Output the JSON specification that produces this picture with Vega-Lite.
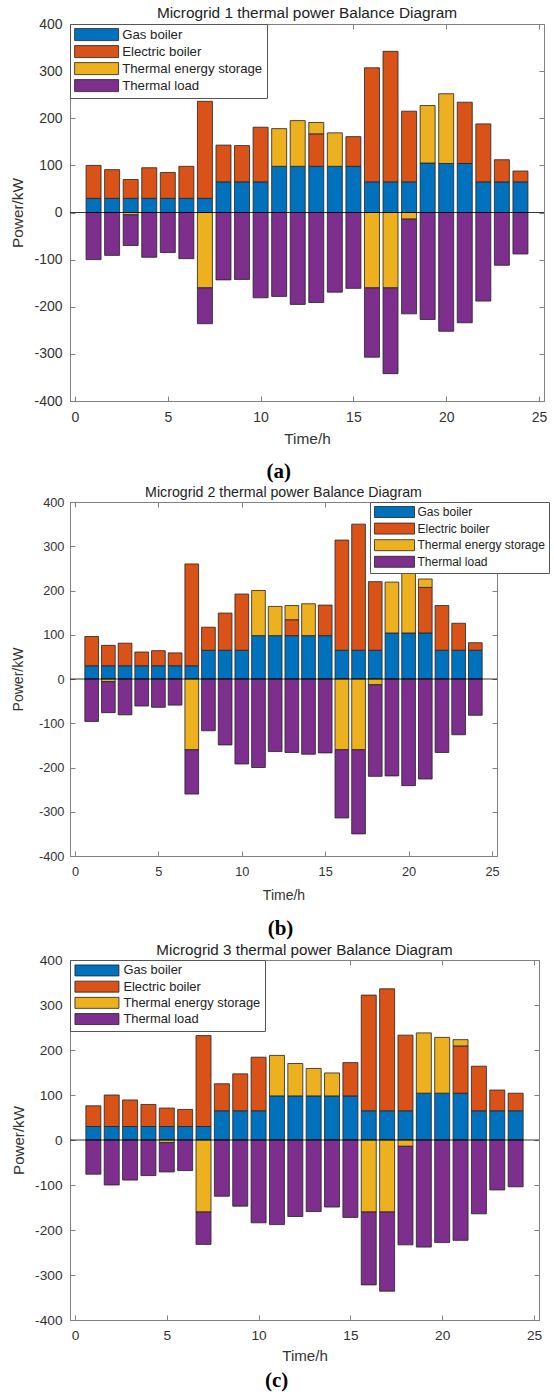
{
  "$schema": "https://vega.github.io/schema/vega-lite/v6.json",
  "padding": {"left": 10, "top": 5, "right": 1, "bottom": 2},
  "background": "white",
  "columns": 1,
  "align": "none",
  "spacing": 3,
  "config": {
    "font": "Liberation Sans",
    "view": {"stroke": "#808080", "strokeWidth": 1},
    "axis": {"domainColor": "#808080", "tickColor": "#808080", "labelColor": "#333333", "titleColor": "#333333", "grid": false, "labelFont": "Liberation Sans", "titleFont": "Liberation Sans", "titleFontWeight": "normal", "labelOverlap": false, "labelFlush": false, "tickSize": -5},
    "title": {"font": "Liberation Sans", "fontWeight": "normal", "color": "#222222"},
    "legend": {"title": null, "symbolStrokeColor": "#222222", "symbolStrokeWidth": 0.8, "symbolOpacity": 1, "labelColor": "#222222", "fillColor": "#ffffff", "strokeColor": "#555555", "labelLimit": 300, "labelFont": "Liberation Sans"}
  },
  "datasets": {
    "mg1": [
      {"hour":1,"source":"Gas boiler","power":30},{"hour":1,"source":"Electric boiler","power":70},{"hour":1,"source":"Thermal load","power":-100},
      {"hour":2,"source":"Gas boiler","power":30},{"hour":2,"source":"Electric boiler","power":61},{"hour":2,"source":"Thermal load","power":-91},
      {"hour":3,"source":"Gas boiler","power":30},{"hour":3,"source":"Electric boiler","power":40},{"hour":3,"source":"Thermal energy storage","power":-5},{"hour":3,"source":"Thermal load","power":-65},
      {"hour":4,"source":"Gas boiler","power":30},{"hour":4,"source":"Electric boiler","power":65},{"hour":4,"source":"Thermal load","power":-95},
      {"hour":5,"source":"Gas boiler","power":30},{"hour":5,"source":"Electric boiler","power":55},{"hour":5,"source":"Thermal load","power":-85},
      {"hour":6,"source":"Gas boiler","power":30},{"hour":6,"source":"Electric boiler","power":68},{"hour":6,"source":"Thermal load","power":-98},
      {"hour":7,"source":"Gas boiler","power":30},{"hour":7,"source":"Electric boiler","power":206},{"hour":7,"source":"Thermal energy storage","power":-160},{"hour":7,"source":"Thermal load","power":-76},
      {"hour":8,"source":"Gas boiler","power":65},{"hour":8,"source":"Electric boiler","power":78},{"hour":8,"source":"Thermal load","power":-143},
      {"hour":9,"source":"Gas boiler","power":65},{"hour":9,"source":"Electric boiler","power":77},{"hour":9,"source":"Thermal load","power":-142},
      {"hour":10,"source":"Gas boiler","power":65},{"hour":10,"source":"Electric boiler","power":116},{"hour":10,"source":"Thermal load","power":-181},
      {"hour":11,"source":"Gas boiler","power":98},{"hour":11,"source":"Thermal energy storage","power":80},{"hour":11,"source":"Thermal load","power":-178},
      {"hour":12,"source":"Gas boiler","power":98},{"hour":12,"source":"Thermal energy storage","power":97},{"hour":12,"source":"Thermal load","power":-195},
      {"hour":13,"source":"Gas boiler","power":98},{"hour":13,"source":"Electric boiler","power":69},{"hour":13,"source":"Thermal energy storage","power":24},{"hour":13,"source":"Thermal load","power":-191},
      {"hour":14,"source":"Gas boiler","power":98},{"hour":14,"source":"Thermal energy storage","power":71},{"hour":14,"source":"Thermal load","power":-169},
      {"hour":15,"source":"Gas boiler","power":98},{"hour":15,"source":"Electric boiler","power":63},{"hour":15,"source":"Thermal load","power":-161},
      {"hour":16,"source":"Gas boiler","power":65},{"hour":16,"source":"Electric boiler","power":242},{"hour":16,"source":"Thermal energy storage","power":-160},{"hour":16,"source":"Thermal load","power":-147},
      {"hour":17,"source":"Gas boiler","power":65},{"hour":17,"source":"Electric boiler","power":277},{"hour":17,"source":"Thermal energy storage","power":-160},{"hour":17,"source":"Thermal load","power":-182},
      {"hour":18,"source":"Gas boiler","power":65},{"hour":18,"source":"Electric boiler","power":150},{"hour":18,"source":"Thermal energy storage","power":-14},{"hour":18,"source":"Thermal load","power":-201},
      {"hour":19,"source":"Gas boiler","power":105},{"hour":19,"source":"Thermal energy storage","power":122},{"hour":19,"source":"Thermal load","power":-227},
      {"hour":20,"source":"Gas boiler","power":104},{"hour":20,"source":"Thermal energy storage","power":148},{"hour":20,"source":"Thermal load","power":-252},
      {"hour":21,"source":"Gas boiler","power":104},{"hour":21,"source":"Electric boiler","power":130},{"hour":21,"source":"Thermal load","power":-234},
      {"hour":22,"source":"Gas boiler","power":65},{"hour":22,"source":"Electric boiler","power":123},{"hour":22,"source":"Thermal load","power":-188},
      {"hour":23,"source":"Gas boiler","power":65},{"hour":23,"source":"Electric boiler","power":47},{"hour":23,"source":"Thermal load","power":-112},
      {"hour":24,"source":"Gas boiler","power":65},{"hour":24,"source":"Electric boiler","power":23},{"hour":24,"source":"Thermal load","power":-88}
    ],
    "mg2": [
      {"hour":1,"source":"Gas boiler","power":30},{"hour":1,"source":"Electric boiler","power":66},{"hour":1,"source":"Thermal load","power":-96},
      {"hour":2,"source":"Gas boiler","power":30},{"hour":2,"source":"Electric boiler","power":46},{"hour":2,"source":"Thermal energy storage","power":-6},{"hour":2,"source":"Thermal load","power":-70},
      {"hour":3,"source":"Gas boiler","power":30},{"hour":3,"source":"Electric boiler","power":51},{"hour":3,"source":"Thermal load","power":-81},
      {"hour":4,"source":"Gas boiler","power":30},{"hour":4,"source":"Electric boiler","power":31},{"hour":4,"source":"Thermal load","power":-61},
      {"hour":5,"source":"Gas boiler","power":30},{"hour":5,"source":"Electric boiler","power":34},{"hour":5,"source":"Thermal load","power":-64},
      {"hour":6,"source":"Gas boiler","power":30},{"hour":6,"source":"Electric boiler","power":29},{"hour":6,"source":"Thermal load","power":-59},
      {"hour":7,"source":"Gas boiler","power":30},{"hour":7,"source":"Electric boiler","power":230},{"hour":7,"source":"Thermal energy storage","power":-160},{"hour":7,"source":"Thermal load","power":-100},
      {"hour":8,"source":"Gas boiler","power":65},{"hour":8,"source":"Electric boiler","power":52},{"hour":8,"source":"Thermal load","power":-117},
      {"hour":9,"source":"Gas boiler","power":65},{"hour":9,"source":"Electric boiler","power":84},{"hour":9,"source":"Thermal load","power":-149},
      {"hour":10,"source":"Gas boiler","power":65},{"hour":10,"source":"Electric boiler","power":127},{"hour":10,"source":"Thermal load","power":-192},
      {"hour":11,"source":"Gas boiler","power":98},{"hour":11,"source":"Thermal energy storage","power":102},{"hour":11,"source":"Thermal load","power":-200},
      {"hour":12,"source":"Gas boiler","power":98},{"hour":12,"source":"Thermal energy storage","power":66},{"hour":12,"source":"Thermal load","power":-164},
      {"hour":13,"source":"Gas boiler","power":98},{"hour":13,"source":"Electric boiler","power":36},{"hour":13,"source":"Thermal energy storage","power":32},{"hour":13,"source":"Thermal load","power":-166},
      {"hour":14,"source":"Gas boiler","power":98},{"hour":14,"source":"Thermal energy storage","power":72},{"hour":14,"source":"Thermal load","power":-170},
      {"hour":15,"source":"Gas boiler","power":98},{"hour":15,"source":"Electric boiler","power":69},{"hour":15,"source":"Thermal load","power":-167},
      {"hour":16,"source":"Gas boiler","power":65},{"hour":16,"source":"Electric boiler","power":249},{"hour":16,"source":"Thermal energy storage","power":-160},{"hour":16,"source":"Thermal load","power":-154},
      {"hour":17,"source":"Gas boiler","power":65},{"hour":17,"source":"Electric boiler","power":285},{"hour":17,"source":"Thermal energy storage","power":-160},{"hour":17,"source":"Thermal load","power":-190},
      {"hour":18,"source":"Gas boiler","power":65},{"hour":18,"source":"Electric boiler","power":155},{"hour":18,"source":"Thermal energy storage","power":-13},{"hour":18,"source":"Thermal load","power":-207},
      {"hour":19,"source":"Gas boiler","power":104},{"hour":19,"source":"Thermal energy storage","power":115},{"hour":19,"source":"Thermal load","power":-219},
      {"hour":20,"source":"Gas boiler","power":104},{"hour":20,"source":"Thermal energy storage","power":137},{"hour":20,"source":"Thermal load","power":-241},
      {"hour":21,"source":"Gas boiler","power":104},{"hour":21,"source":"Electric boiler","power":103},{"hour":21,"source":"Thermal energy storage","power":19},{"hour":21,"source":"Thermal load","power":-226},
      {"hour":22,"source":"Gas boiler","power":65},{"hour":22,"source":"Electric boiler","power":101},{"hour":22,"source":"Thermal load","power":-166},
      {"hour":23,"source":"Gas boiler","power":65},{"hour":23,"source":"Electric boiler","power":61},{"hour":23,"source":"Thermal load","power":-126},
      {"hour":24,"source":"Gas boiler","power":65},{"hour":24,"source":"Electric boiler","power":17},{"hour":24,"source":"Thermal load","power":-82}
    ],
    "mg3": [
      {"hour":1,"source":"Gas boiler","power":30},{"hour":1,"source":"Electric boiler","power":46},{"hour":1,"source":"Thermal load","power":-76},
      {"hour":2,"source":"Gas boiler","power":30},{"hour":2,"source":"Electric boiler","power":70},{"hour":2,"source":"Thermal load","power":-100},
      {"hour":3,"source":"Gas boiler","power":30},{"hour":3,"source":"Electric boiler","power":59},{"hour":3,"source":"Thermal load","power":-89},
      {"hour":4,"source":"Gas boiler","power":30},{"hour":4,"source":"Electric boiler","power":49},{"hour":4,"source":"Thermal load","power":-79},
      {"hour":5,"source":"Gas boiler","power":30},{"hour":5,"source":"Electric boiler","power":41},{"hour":5,"source":"Thermal energy storage","power":-6},{"hour":5,"source":"Thermal load","power":-65},
      {"hour":6,"source":"Gas boiler","power":30},{"hour":6,"source":"Electric boiler","power":38},{"hour":6,"source":"Thermal load","power":-68},
      {"hour":7,"source":"Gas boiler","power":30},{"hour":7,"source":"Electric boiler","power":202},{"hour":7,"source":"Thermal energy storage","power":-160},{"hour":7,"source":"Thermal load","power":-72},
      {"hour":8,"source":"Gas boiler","power":65},{"hour":8,"source":"Electric boiler","power":60},{"hour":8,"source":"Thermal load","power":-125},
      {"hour":9,"source":"Gas boiler","power":65},{"hour":9,"source":"Electric boiler","power":82},{"hour":9,"source":"Thermal load","power":-147},
      {"hour":10,"source":"Gas boiler","power":65},{"hour":10,"source":"Electric boiler","power":119},{"hour":10,"source":"Thermal load","power":-184},
      {"hour":11,"source":"Gas boiler","power":98},{"hour":11,"source":"Thermal energy storage","power":90},{"hour":11,"source":"Thermal load","power":-188},
      {"hour":12,"source":"Gas boiler","power":98},{"hour":12,"source":"Thermal energy storage","power":72},{"hour":12,"source":"Thermal load","power":-170},
      {"hour":13,"source":"Gas boiler","power":98},{"hour":13,"source":"Thermal energy storage","power":61},{"hour":13,"source":"Thermal load","power":-159},
      {"hour":14,"source":"Gas boiler","power":98},{"hour":14,"source":"Thermal energy storage","power":51},{"hour":14,"source":"Thermal load","power":-149},
      {"hour":15,"source":"Gas boiler","power":98},{"hour":15,"source":"Electric boiler","power":74},{"hour":15,"source":"Thermal load","power":-172},
      {"hour":16,"source":"Gas boiler","power":65},{"hour":16,"source":"Electric boiler","power":257},{"hour":16,"source":"Thermal energy storage","power":-160},{"hour":16,"source":"Thermal load","power":-162},
      {"hour":17,"source":"Gas boiler","power":65},{"hour":17,"source":"Electric boiler","power":271},{"hour":17,"source":"Thermal energy storage","power":-160},{"hour":17,"source":"Thermal load","power":-176},
      {"hour":18,"source":"Gas boiler","power":65},{"hour":18,"source":"Electric boiler","power":168},{"hour":18,"source":"Thermal energy storage","power":-14},{"hour":18,"source":"Thermal load","power":-219},
      {"hour":19,"source":"Gas boiler","power":104},{"hour":19,"source":"Thermal energy storage","power":134},{"hour":19,"source":"Thermal load","power":-238},
      {"hour":20,"source":"Gas boiler","power":104},{"hour":20,"source":"Thermal energy storage","power":124},{"hour":20,"source":"Thermal load","power":-228},
      {"hour":21,"source":"Gas boiler","power":104},{"hour":21,"source":"Electric boiler","power":105},{"hour":21,"source":"Thermal energy storage","power":14},{"hour":21,"source":"Thermal load","power":-223},
      {"hour":22,"source":"Gas boiler","power":65},{"hour":22,"source":"Electric boiler","power":99},{"hour":22,"source":"Thermal load","power":-164},
      {"hour":23,"source":"Gas boiler","power":65},{"hour":23,"source":"Electric boiler","power":46},{"hour":23,"source":"Thermal load","power":-111},
      {"hour":24,"source":"Gas boiler","power":65},{"hour":24,"source":"Electric boiler","power":39},{"hour":24,"source":"Thermal load","power":-104}
    ]
  },
  "concat": [
    {
      "title": {"text": "(a)", "orient": "bottom", "font": "Liberation Serif", "fontWeight": "bold", "fontSize": 21, "color": "#000000", "frame": "bounds", "anchor": "middle", "offset": 14},
      "vconcat": [{
        "width": 474, "height": 377,
        "title": {"text": "Microgrid 1 thermal power Balance Diagram", "fontSize": 15.4, "offset": -4},
        "layer": [
          {
            "data": {"name": "mg1"},
            "transform": [{"calculate": "indexof(['Gas boiler','Electric boiler','Thermal energy storage','Thermal load'], datum.source)", "as": "rank"}],
            "mark": {"type": "bar", "size": 15, "stroke": "#222222", "strokeWidth": 0.8},
            "encoding": {
              "x": {"field": "hour", "type": "quantitative", "scale": {"domain": [0, 25], "nice": false, "zero": false},
                    "axis": {"orient": "bottom", "values": [0,5,10,15,20,25], "title": "Time/h", "labelFontSize": 14, "titleFontSize": 15.4, "labelPadding": 14, "titlePadding": 7}},
              "y": {"field": "power", "type": "quantitative", "stack": "zero", "scale": {"domain": [-400, 400], "nice": false},
                    "axis": {"orient": "left", "values": [-400,-300,-200,-100,0,100,200,300,400], "title": "Power/kW", "labelFontSize": 14, "titleFontSize": 15.4, "labelPadding": 13, "titlePadding": 8.3, "labelExpr": "'' + datum.value"}},
              "color": {"field": "source", "type": "nominal",
                        "scale": {"domain": ["Gas boiler","Electric boiler","Thermal energy storage","Thermal load"], "range": ["#0072BD","#D95319","#EDB120","#7E2F8E"]},
                        "legend": {"orient": "top-left", "offset": 0, "symbolType": "M-3.667,-1H3.667V1H-3.667Z", "symbolSize": 144, "symbolOffset": 16, "labelFontSize": 13.2, "labelOffset": 19, "rowPadding": 1, "padding": 4}},
              "order": {"field": "rank", "type": "quantitative", "sort": "ascending"}
            }
          },
          {
            "data": {"values": [{}]},
            "mark": {"type": "rule", "color": "#000000", "strokeWidth": 0.8},
            "encoding": {"y": {"datum": 0, "type": "quantitative", "scale": {"domain": [-400, 400], "nice": false},
                    "axis": {"orient": "right", "labels": false, "title": null, "domain": false, "values": [-400,-300,-200,-100,0,100,200,300,400]}}}
          },
          {
            "data": {"values": [{}]},
            "mark": {"type": "rule", "opacity": 0},
            "encoding": {"x": {"datum": 0, "type": "quantitative", "scale": {"domain": [0, 25], "nice": false, "zero": false},
                    "axis": {"orient": "top", "labels": false, "title": null, "domain": false, "values": [0,5,10,15,20,25]}}}
          }
        ],
        "resolve": {"axis": {"x": "independent", "y": "independent"}}
      }]
    },
    {
      "title": {"text": "(b)", "orient": "bottom", "font": "Liberation Serif", "fontWeight": "bold", "fontSize": 21, "color": "#000000", "frame": "bounds", "anchor": "middle", "offset": 15},
      "vconcat": [{
        "width": 427, "height": 354,
        "title": {"text": "Microgrid 2 thermal power Balance Diagram", "fontSize": 14.2, "offset": -4},
        "layer": [
          {
            "data": {"name": "mg2"},
            "transform": [{"calculate": "indexof(['Gas boiler','Electric boiler','Thermal energy storage','Thermal load'], datum.source)", "as": "rank"}],
            "mark": {"type": "bar", "size": 13.7, "stroke": "#222222", "strokeWidth": 0.8},
            "encoding": {
              "x": {"field": "hour", "type": "quantitative", "scale": {"domain": [0, 25], "nice": false, "zero": false},
                    "axis": {"orient": "bottom", "values": [0,5,10,15,20,25], "title": "Time/h", "labelFontSize": 12.8, "titleFontSize": 14, "labelPadding": 14, "titlePadding": 10.5}},
              "y": {"field": "power", "type": "quantitative", "stack": "zero", "scale": {"domain": [-400, 400], "nice": false},
                    "axis": {"orient": "left", "values": [-400,-300,-200,-100,0,100,200,300,400], "title": "Power/kW", "labelFontSize": 12.8, "titleFontSize": 14, "labelPadding": 11, "titlePadding": 12.4, "labelExpr": "'' + datum.value"}},
              "color": {"field": "source", "type": "nominal",
                        "scale": {"domain": ["Gas boiler","Electric boiler","Thermal energy storage","Thermal load"], "range": ["#0072BD","#D95319","#EDB120","#7E2F8E"]},
                        "legend": {"orient": "none", "legendX": 300, "legendY": 0, "symbolType": "M-3.64,-1H3.64V1H-3.64Z", "symbolSize": 121, "symbolOffset": 14.5, "labelFontSize": 12, "labelOffset": 17, "rowPadding": 0.6, "padding": 4}},
              "order": {"field": "rank", "type": "quantitative", "sort": "ascending"}
            }
          },
          {
            "data": {"values": [{}]},
            "mark": {"type": "rule", "color": "#000000", "strokeWidth": 0.8},
            "encoding": {"y": {"datum": 0, "type": "quantitative", "scale": {"domain": [-400, 400], "nice": false},
                    "axis": {"orient": "right", "labels": false, "title": null, "domain": false, "values": [-400,-300,-200,-100,0,100,200,300,400]}}}
          },
          {
            "data": {"values": [{}]},
            "mark": {"type": "rule", "opacity": 0},
            "encoding": {"x": {"datum": 0, "type": "quantitative", "scale": {"domain": [0, 25], "nice": false, "zero": false},
                    "axis": {"orient": "top", "labels": false, "title": null, "domain": false, "values": [0,5,10,15,20,25]}}}
          }
        ],
        "resolve": {"axis": {"x": "independent", "y": "independent"}}
      }]
    },
    {
      "title": {"text": "(c)", "orient": "bottom", "font": "Liberation Serif", "fontWeight": "bold", "fontSize": 21, "color": "#000000", "frame": "bounds", "anchor": "middle", "offset": 6},
      "vconcat": [{
        "width": 469, "height": 360,
        "title": {"text": "Microgrid 3 thermal power Balance Diagram", "fontSize": 15.2, "offset": -5},
        "layer": [
          {
            "data": {"name": "mg3"},
            "transform": [{"calculate": "indexof(['Gas boiler','Electric boiler','Thermal energy storage','Thermal load'], datum.source)", "as": "rank"}],
            "mark": {"type": "bar", "size": 15, "stroke": "#222222", "strokeWidth": 0.8},
            "encoding": {
              "x": {"field": "hour", "type": "quantitative", "scale": {"domain": [0, 25], "nice": false, "zero": false},
                    "axis": {"orient": "bottom", "values": [0,5,10,15,20,25], "title": "Time/h", "labelFontSize": 13.7, "titleFontSize": 15.1, "labelPadding": 13, "titlePadding": 7}},
              "y": {"field": "power", "type": "quantitative", "stack": "zero", "scale": {"domain": [-400, 400], "nice": false},
                    "axis": {"orient": "left", "values": [-400,-300,-200,-100,0,100,200,300,400], "title": "Power/kW", "labelFontSize": 13.7, "titleFontSize": 15.1, "labelPadding": 13, "titlePadding": 8.1, "labelExpr": "'' + datum.value"}},
              "color": {"field": "source", "type": "nominal",
                        "scale": {"domain": ["Gas boiler","Electric boiler","Thermal energy storage","Thermal load"], "range": ["#0072BD","#D95319","#EDB120","#7E2F8E"]},
                        "legend": {"orient": "top-left", "offset": 0, "symbolType": "M-4,-1H4V1H-4Z", "symbolSize": 121, "symbolOffset": 16.5, "labelFontSize": 12.9, "labelOffset": 20, "rowPadding": 1.2, "padding": 4}},
              "order": {"field": "rank", "type": "quantitative", "sort": "ascending"}
            }
          },
          {
            "data": {"values": [{}]},
            "mark": {"type": "rule", "color": "#000000", "strokeWidth": 0.8},
            "encoding": {"y": {"datum": 0, "type": "quantitative", "scale": {"domain": [-400, 400], "nice": false},
                    "axis": {"orient": "right", "labels": false, "title": null, "domain": false, "values": [-400,-300,-200,-100,0,100,200,300,400]}}}
          },
          {
            "data": {"values": [{}]},
            "mark": {"type": "rule", "opacity": 0},
            "encoding": {"x": {"datum": 0, "type": "quantitative", "scale": {"domain": [0, 25], "nice": false, "zero": false},
                    "axis": {"orient": "top", "labels": false, "title": null, "domain": false, "values": [0,5,10,15,20,25]}}}
          }
        ],
        "resolve": {"axis": {"x": "independent", "y": "independent"}}
      }]
    }
  ]
}
